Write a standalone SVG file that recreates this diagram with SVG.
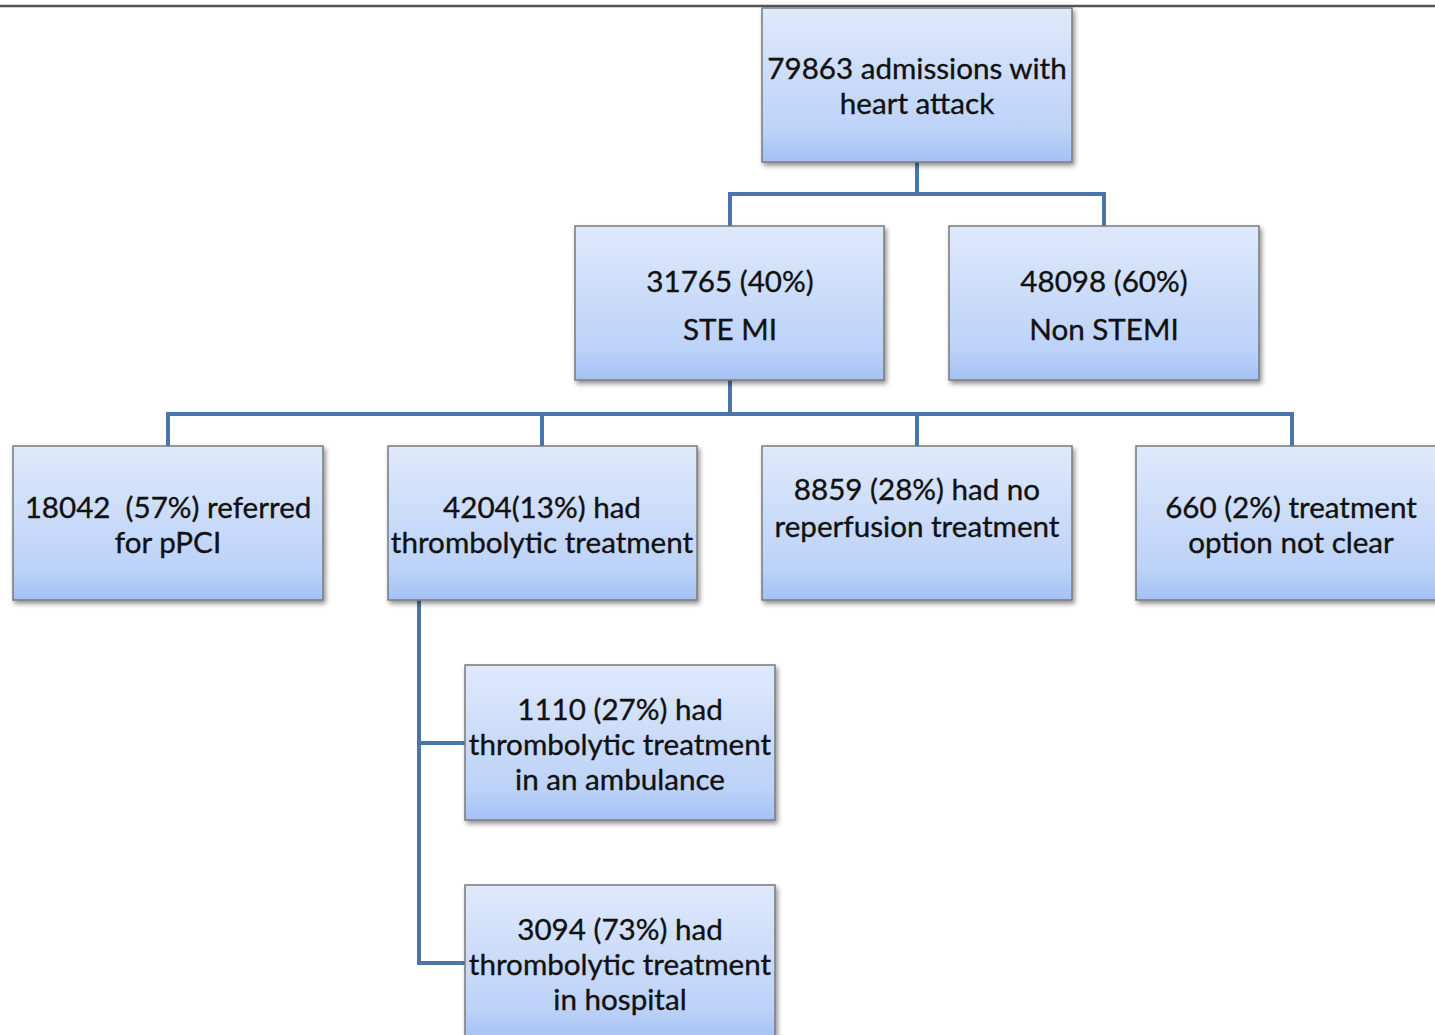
<svg xmlns="http://www.w3.org/2000/svg" width="1435" height="1035" viewBox="0 0 1435 1035">
<defs>
<linearGradient id="g" x1="0" y1="0" x2="0" y2="1">
<stop offset="0" stop-color="#dfe9fb"/>
<stop offset="0.8" stop-color="#bcd2f8"/>
<stop offset="1" stop-color="#a3c1f5"/>
</linearGradient>
<filter id="sh" x="-10%" y="-10%" width="130%" height="130%">
<feGaussianBlur in="SourceAlpha" stdDeviation="2.5"/>
<feOffset dx="2" dy="3" result="b"/>
<feComponentTransfer><feFuncA type="linear" slope="0.45"/></feComponentTransfer>
<feMerge><feMergeNode/><feMergeNode in="SourceGraphic"/></feMerge>
</filter>
</defs>
<style>
.box{fill:url(#g);stroke:#7a7a7a;stroke-width:1.5;filter:url(#sh)}
.t{font-family:Lato,"Open Sans","Liberation Sans",sans-serif;font-size:29.6px;fill:#111;stroke:#111;stroke-width:0.35;text-anchor:middle}
.c{fill:none;stroke:#4a76ac;stroke-width:4}
</style>
<rect width="1435" height="1035" fill="#fff"/>
<line x1="0" y1="6" x2="1435" y2="6" stroke="#555" stroke-width="2.5"/>
<g id="connectors">
<path class="c" d="M917 162V194M730 226V194H1104V226"/>
<path class="c" d="M730 380V414M168 446V414H1292V446M542 414V446M917 414V446"/>
<path class="c" d="M419 600V963H465M419 743H465"/>
</g>
<g id="n1"><rect class="box" x="762" y="8" width="310" height="154"/>
<text class="t" x="917" y="79">79863 admissions with</text><text class="t" x="917" y="114">heart attack</text></g>
<g id="n2"><rect class="box" x="575" y="226" width="309" height="154"/>
<text class="t" x="730" y="292">31765 (40%)</text><text class="t" x="730" y="340">STE MI</text></g>
<g id="n3"><rect class="box" x="949" y="226" width="310" height="154"/>
<text class="t" x="1104" y="292">48098 (60%)</text><text class="t" x="1104" y="340">Non STEMI</text></g>
<g id="n4"><rect class="box" x="13" y="446" width="310" height="154"/>
<text class="t" x="168" y="518" xml:space="preserve">18042  (57%) referred</text><text class="t" x="168" y="553">for pPCI</text></g>
<g id="n5"><rect class="box" x="388" y="446" width="309" height="154"/>
<text class="t" x="542" y="518">4204(13%) had</text><text class="t" x="542" y="553">thrombolytic treatment</text></g>
<g id="n6"><rect class="box" x="762" y="446" width="310" height="154"/>
<text class="t" x="917" y="500">8859 (28%) had no</text><text class="t" x="917" y="537">reperfusion treatment</text></g>
<g id="n7"><rect class="box" x="1136" y="446" width="310" height="154"/>
<text class="t" x="1291" y="518">660 (2%) treatment</text><text class="t" x="1291" y="553">option not clear</text></g>
<g id="n8"><rect class="box" x="465" y="665" width="310" height="155"/>
<text class="t" x="620" y="720">1110 (27%) had</text><text class="t" x="620" y="755">thrombolytic treatment</text><text class="t" x="620" y="790">in an ambulance</text></g>
<g id="n9"><rect class="box" x="465" y="885" width="310" height="155"/>
<text class="t" x="620" y="940">3094 (73%) had</text><text class="t" x="620" y="975">thrombolytic treatment</text><text class="t" x="620" y="1010">in hospital</text></g>
</svg>
